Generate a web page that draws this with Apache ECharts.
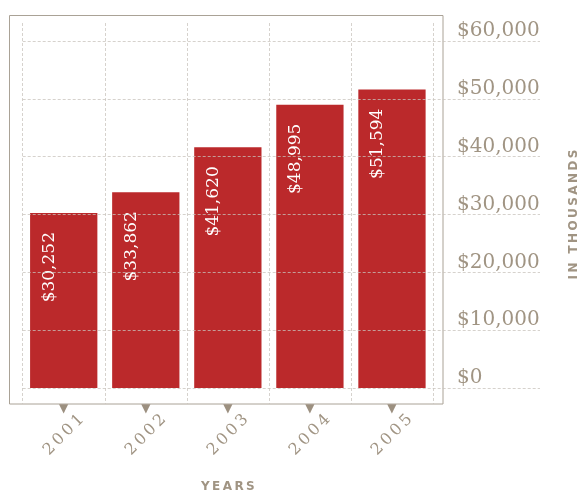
<!DOCTYPE html>
<html><head><meta charset="utf-8">
<script src="https://cdn.jsdelivr.net/npm/echarts@6/dist/echarts.min.js"></script>
<style>html,body{margin:0;padding:0;background:#fff}#c{width:579px;height:491px}</style>
</head><body><div id="c"></div>
<script>
const years = ['2001', '2002', '2003', '2004', '2005'];
const revenue = [30252, 33862, 41620, 48995, 51594];
const yMin = 0, yMax = 60000, yStep = 10000;
const xTitle = 'YEARS';
const yTitle = 'IN THOUSANDS';

const TXT = '#a09483';
const RED = '#bb292b';
const GRIDC = 'rgba(200,195,188,0.75)';
const SERIF = '"DejaVu Serif", serif';
const SANS = '"DejaVu Sans", sans-serif';
const spaced = s => s.split('').join('\u2009');
const money = v => '$' + Number(v).toLocaleString('en-US');

const chart = echarts.init(document.getElementById('c'), null, {renderer: 'canvas'});
chart.setOption({
  animation: false,
  backgroundColor: '#fff',
  graphic: [{
    type: 'rect', z: 0, silent: true,
    shape: {x: 9.5, y: 15.5, width: 433.5, height: 388.5},
    style: {fill: 'none', stroke: '#aaa296', lineWidth: 1}
  }],
  grid: [
    {left: 22.7, top: 41, width: 410.3, height: 347, outerBoundsMode: 'none', containLabel: false},
    {left: 22.7, top: 41, width: 517.3, height: 347, outerBoundsMode: 'none', containLabel: false},
    {left: 22.7, top: 23, width: 410.3, height: 381, outerBoundsMode: 'none', containLabel: false}
  ],
  xAxis: [
    {
      type: 'category', gridIndex: 0, data: years,
      axisLine: {show: false}, axisTick: {show: false}, splitLine: {show: false},
      axisLabel: {
        rotate: 45, align: 'center', verticalAlign: 'middle', margin: 47,
        color: TXT, fontFamily: SERIF, fontSize: 16, formatter: v => spaced(v)
      },
      name: spaced(xTitle), nameLocation: 'middle', nameGap: 92.5,
      nameTextStyle: {color: TXT, fontFamily: SANS, fontWeight: 'bold', fontSize: 12}
    },
    {
      type: 'category', gridIndex: 0, data: years, position: 'bottom',
      axisLine: {show: false}, axisTick: {show: false}, splitLine: {show: false},
      axisLabel: {margin: 21, verticalAlign: 'middle', color: '#9c9080', fontFamily: SANS, fontSize: 12, formatter: () => '\u25BC'}
    },
    {type: 'value', gridIndex: 1, show: false},
    {
      type: 'category', gridIndex: 2, data: years,
      axisLine: {show: false}, axisTick: {show: false}, axisLabel: {show: false},
      splitLine: {show: true, lineStyle: {color: GRIDC, type: [3, 2], width: 1}}
    }
  ],
  yAxis: [
    {
      type: 'value', gridIndex: 0, position: 'right', min: yMin, max: yMax, interval: yStep,
      axisLine: {show: false}, axisTick: {show: false}, splitLine: {show: false},
      axisLabel: {margin: 24, align: 'left', verticalAlign: 'bottom', color: TXT, fontFamily: SERIF, fontSize: 20, formatter: money},
      name: spaced(yTitle), nameLocation: 'middle', nameRotate: 90, nameGap: 135,
      nameTextStyle: {color: TXT, fontFamily: SANS, fontWeight: 'bold', fontSize: 12}
    },
    {
      type: 'value', gridIndex: 1, min: yMin, max: yMax, interval: yStep, z: 10,
      axisLine: {show: false}, axisTick: {show: false}, axisLabel: {show: false},
      splitLine: {show: true, lineStyle: {color: GRIDC, type: [3, 2], width: 1}}
    },
    {type: 'value', gridIndex: 2, show: false}
  ],
  series: [{
    type: 'bar', xAxisIndex: 0, yAxisIndex: 0, data: revenue,
    barCategoryGap: '18%',
    itemStyle: {color: RED},
    label: {
      show: true, position: 'insideTop', distance: 19, rotate: 90,
      align: 'right', verticalAlign: 'middle', offset: [0, -14],
      color: '#fff', fontFamily: SERIF, fontSize: 17, formatter: p => money(p.value)
    }
  }]
});
</script></body></html>
